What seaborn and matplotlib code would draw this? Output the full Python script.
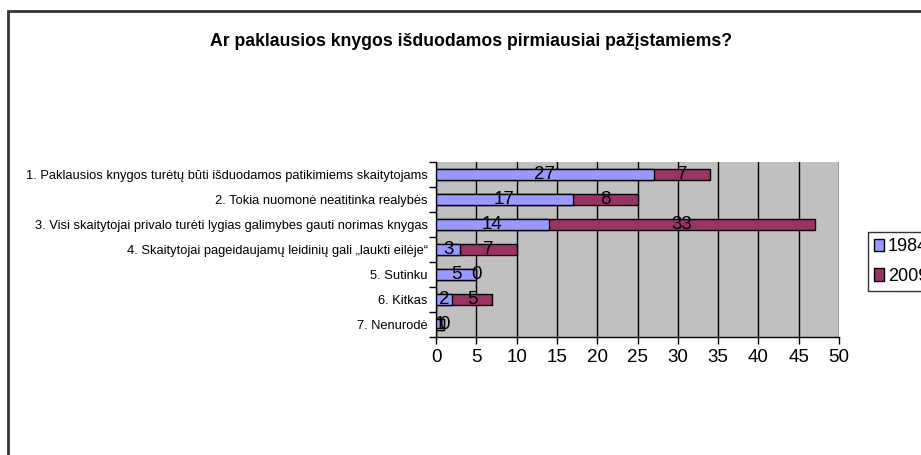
import matplotlib
matplotlib.use("Agg")
import matplotlib.pyplot as plt
import seaborn as sns
import pandas as pd
import numpy as np
from matplotlib.patches import Rectangle, Patch

categories = [
    "1. Paklausios knygos turėtų būti išduodamos patikimiems skaitytojams",
    "2. Tokia nuomonė neatitinka realybės",
    "3. Visi skaitytojai privalo turėti lygias galimybes gauti norimas knygas",
    "4. Skaitytojai pageidaujamų leidinių gali „laukti eilėje“",
    "5. Sutinku",
    "6. Kitkas",
    "7. Nenurodė",
]
v1984 = [27, 17, 14, 3, 5, 2, 1]
v2009 = [7, 8, 33, 7, 0, 5, 0]
series_names = ["1984", "2009"]
xticks = [0, 5, 10, 15, 20, 25, 30, 35, 40, 45, 50]
title = "Ar paklausios knygos išduodamos pirmiausiai pažįstamiems?"

sns.set_theme(style="white")
plt.rcParams["font.family"] = ["Liberation Sans", "DejaVu Sans"]
plt.rcParams["text.color"] = "black"
plt.rcParams["xtick.color"] = "black"
plt.rcParams["ytick.color"] = "black"
plt.rcParams["xtick.labelcolor"] = "black"
plt.rcParams["ytick.labelcolor"] = "black"

df = pd.DataFrame({"cat": categories, "a": v1984, "b": v2009})
df["total"] = df["a"] + df["b"]

fig = plt.figure(figsize=(9.21, 4.55), dpi=100)
ax = fig.add_axes([436/921, 1-337/455, (839-436)/921, (337-162)/455])

c1 = "#9999FF"
c2 = "#993366"
sns.barplot(data=df, y="cat", x="total", color=c2, orient="h", width=0.47,
            edgecolor="black", linewidth=1.0, saturation=1, ax=ax, zorder=3)
sns.barplot(data=df, y="cat", x="a", color=c1, orient="h", width=0.47,
            edgecolor="black", linewidth=1.0, saturation=1, ax=ax, zorder=4)

ax.set_facecolor("#C0C0C0")
ax.set_xlim(0, 50)
ax.set_ylim(6.5, -0.5)
ax.set_xticks(xticks)
ax.set_xticklabels([str(t) for t in xticks], fontsize=13.5)
ax.xaxis.grid(True, color="black", linewidth=1.0, zorder=1)
ax.set_axisbelow(True)
ax.set_xlabel("")
ax.set_ylabel("")
ax.set_yticks(range(len(categories)))
ax.set_yticklabels(categories, fontsize=9.3)
ax.set_yticks(np.arange(-0.5, len(categories), 1.0), minor=True)
ax.tick_params(axis="y", which="major", length=0, pad=6)
ax.tick_params(axis="y", which="minor", length=5, width=1, color="black", direction="out", left=True)
ax.tick_params(axis="x", which="major", length=5, width=1, color="black", direction="out", bottom=True, pad=4)
for s in ["top", "right"]:
    ax.spines[s].set_visible(False)
for s in ["left", "bottom"]:
    ax.spines[s].set_color("black")
    ax.spines[s].set_linewidth(1.0)

for i, (a, b) in enumerate(zip(v1984, v2009)):
    ax.text(a / 2, i, str(a), ha="center", va="center", fontsize=13.5, color="black", zorder=6)
    ax.text(a + b / 2, i, str(b), ha="center", va="center", fontsize=13.5, color="black", zorder=6)

handles = [Patch(facecolor=c1, edgecolor="black", linewidth=1),
           Patch(facecolor=c2, edgecolor="black", linewidth=1)]
leg = fig.legend(handles, series_names, loc="upper left",
                 bbox_to_anchor=(868/921, 1-232/455), fontsize=13,
                 frameon=True, fancybox=False, handlelength=0.55, handleheight=0.7,
                 handletextpad=0.2, borderpad=0.35, borderaxespad=0, labelspacing=0.7)
leg.get_frame().set_edgecolor("black")
leg.get_frame().set_linewidth(1.0)
for t in leg.get_texts():
    t.set_color("black")

fig.text(471/921, 1-42/455, title, ha="center", va="center", fontsize=12.7,
         fontweight="bold", color="black")

fig.patches.append(Rectangle((8/921, -0.1), 1.2, 1-11/455+0.1, transform=fig.transFigure,
                             fill=False, edgecolor="#333333", linewidth=2, zorder=0))

fig.savefig("out.png", dpi=100)
